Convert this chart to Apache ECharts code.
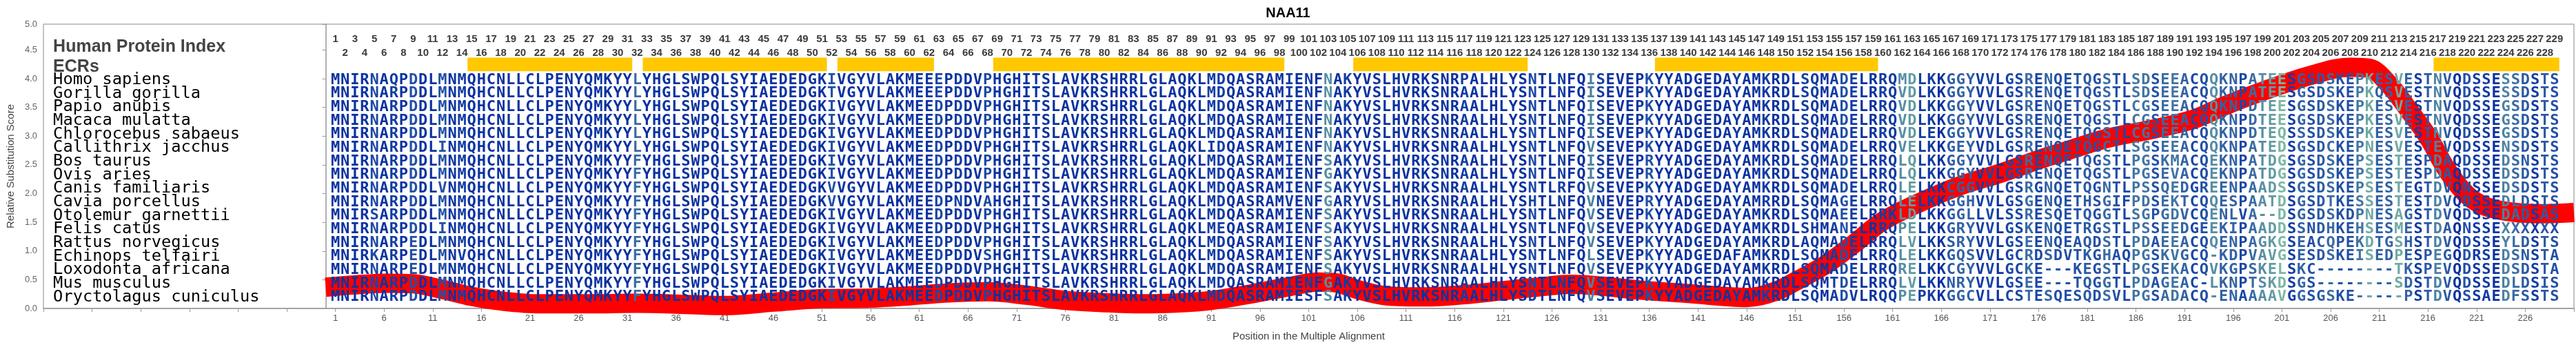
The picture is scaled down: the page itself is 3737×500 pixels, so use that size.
<!DOCTYPE html>
<html><head><meta charset="utf-8">
<script src="https://cdn.jsdelivr.net/npm/echarts@6/dist/echarts.min.js"></script>
<style>html,body{margin:0;padding:0;background:#fff}#c{width:3737px;height:500px}</style>
</head><body><div id="c"></div>
<script>
// ---------------- data ----------------
const chartTitle = 'NAA11';
const species = ['Homo sapiens','Gorilla gorilla','Papio anubis','Macaca mulatta','Chlorocebus sabaeus',
  'Callithrix jacchus','Bos taurus','Ovis aries','Canis familiaris','Cavia porcellus','Otolemur garnettii',
  'Felis catus','Rattus norvegicus','Echinops telfairi','Loxodonta africana','Mus musculus','Oryctolagus cuniculus'];

const alignment = [
 ['MNIRNAQPDDLMNMQ','HCNLLCLPENYQMKYYLYHGLSWPQLSYIAEDEDGKIVGYVLA','KMEEEPDDVPHGHITSLAVK','RSHRRLGLAQKLMDQASRAMIENFNA','KYVSLHVRKSNRPALHLYSNTLNFQ','ISEVEPKYYADGEDAYAMKRDLSQMA','DELRRQMDLKKGGYVVLGSRENQETQGS','TLSDSEEACQQKNPATEESGSDSKEPKESVESTNVQDSSESSDSTS'],
 ['MNIRNARPDDLMNMQ','HCNLLCLPENYQMKYYLYHGLSWPQLSYIAEDEDGKTVGYVLA','KMEEEPDDVPHGHITSLAVK','RSHRRLGLAQKLMDQASRAMIENFNA','KYVSLHVRKSNRAALHLYSNTLNFQ','ISEVEPKYYADGEDAYAMKRDLSQMA','DELRRQVDLKKGGYVVLGSRENQETQGS','TLSDSEEACQQKNPATEESGSDSKEPKQSVESTNVQDSSESSDSTS'],
 ['MNIRNARPDDLMNMQ','HCNLLCLPENYQMKYYLYHGLSWPQLSYIAEDEDGKIVGYVLA','KMEEDPDDVPHGHITSLAVK','RSHRRLGLAQKLMDQASRAMIENFNA','KYVSLHVRKSNRAALHLYSNTLNFQ','ISEVEPKYYADGEDAYAMKRDLSQMA','DELRRQVDLKKGGYVVLGSRENQETQGS','TLCGSEEACQQKNPDTEESGSDSKEPKESVESTNVQDSSEGSDSTS'],
 ['MNIRNARPDDLMNMQ','HCNLLCLPENYQMKYYLYHGLSWPQLSYIAEDEDGKIVGYVLA','KMEEDPDDVPHGHITSLAVK','RSHRRLGLAQKLMDQASRAMIENFNA','KYVSLHVRKSNRAALHLYSNTLNFQ','ISEVEPKYYADGEDAYAMKRDLSQMA','DELRRQVDLKKGGYVVLGSRENQETQGS','TLCGSEEACQQKNPDTEESGSDSKEPKESVESTNVQDSSEGSDSTS'],
 ['MNIRNARPDDLMNMQ','HCNLLCLPENYQMKYYLYHGLSWPQLSYIAEDEDGKIVGYVLA','KMEEDPDDVPHGHITSLAVK','RSHRRLGLAQKLMDQASRAMIENFNA','KYVSLHVRKSNRAALHLYSNTLNFQ','ISEVEPKYYADGEDAYAMKRDLSQMA','DELRRQVDLEKGGYVVLGSRENQETQGS','TLCGSEEACQQKNPDTEQSSSDSKEPKESVESTNVQDSSEGSDSTS'],
 ['MNIRNARPDDLINMQ','HCNLLCLPENYQMKYYLYHGLSWPQLSYIAEDEDGKIVGYVLA','KMEEDPDDVPHGHITSLAVK','RSHRRLGLAQKLIDQASRAMIENFNA','KYVSLHVRKSNRAALHLYSNTLNFQ','VSEVEPKYYADGEDAYAMKRDLSQMA','DELRRQVELKKGEYVDLGSRENQETQGC','TLSGSEEACQQKNPATEDSGSDCKEPNESVESTEVQDSSENSDSTS'],
 ['MNIRNARPDDLMNMQ','HCNLLCLPENYQMKYYFYHGLSWPQLSYIAEDEDGKIVGYVLA','KMEEDPDDVPHGHITSLAVK','RSHRRLGLAQKLMDQASRAMIENFSA','KYVSLHVRKSNRAALHLYSNTLNFQ','ISEVEPRYYADGEDAYAMKRDLSQMA','DELRRQLQLKKGGYVVLGSRENQETQGS','TLPGSKMACQEKNPATDGSGSDSKEPSESTESPDAQDSSEDSNSTS'],
 ['MNIRNARPDDLMNMQ','HCNLLCLPENYQMKYYFYHGLSWPQLSYIAEDEDGKIVGYVLA','KMEEDPDDVPHGHITSLAVK','RSHRRLGLAQKLMDQASRAMIENFGA','KYVSLHVRKSNRAALHLYSNTLNFQ','ISEVEPRYYADGEDAYAMKRDLSQMA','DELRRQLQLKKGGYVVLGSRENQETQGS','TLPGSEVACQEKNPATDGSGSDSKEPSESTESPDAQDSSEDSDSTS'],
 ['MNIRNARPDDLVNMQ','HCNLLCLPENYQMKYYFYHGLSWPQLSYIAEDEDGKVVGYVLA','KMEEDPDDVPHGHITSLAVK','RSHRRLGLAQKLMDQASRAMIENFSA','KYVSLHVRKSNRAALHLYSNTLRFQ','VSEVEPKYYADGEDAYAMKRDLSQMA','DELRRQLELKKCGGVVLGSRGNQETQGN','TLPSSQEDGREENPAADSSGSDSKEPSESTEGTDVQNSSEDSDSTS'],
 ['MNIRNARPDDLMNMQ','HCNLLCLPENYQMKYYFYHGLSWPQLSYIAEDEDGKVVGYVLA','KMEEDPNDVAHGHITSLAVK','RSHRRLGLAQKLMDQASRAMVENFGA','RYVSLHVRKSNRAALHLYSHTLNFQ','VNEVEPRYYADGEDAYAMRRDLSQMA','GELRRQLELKKGGHVVLGSGENQETHSG','IFPDSEKTCQQESPAATDSGSDTKESSESTESTDVQDSSEDLDSIS'],
 ['MNIRSARPDDLMNMQ','HCNLLCLPENYQMKYYFYHGLSWPQLSYIAEDEDGKIVGYVLA','KMEEDPDDVPHGHITSLAVK','RSHRRLGLAQKLMDQASRAMIENFSA','KYVSLHVRKSNRAALHLYSNTLNFQ','VSEVEPKYYADGEDAYAMKRDLSQMA','EELRRKLDLKKGGLLVLSSRESQETQGG','TLSGPGDVCQENLVA--DSGSDSKDPNESAGSTDVQDSSEDADSAS'],
 ['MNIRNARPDDLINMQ','HCNLLCLPENYQMKYYFYHGLSWPQLSYIAEDEDGKIVGYVLA','KMEEDPDDVPHGHITSLAVK','RSHRRLGLAQKLMEQASRAMIENFSA','KYVSLHVRKSNRAALHLYSNTLNFQ','VSEVEPKYYADGEDAYAMKRDLSHMA','NELRRQPELKKGRYVVLGSKENQETRGS','TLPSSEEDGEEKIPAADDSSNDHKEHSESMESTDAQNSSEXXXXXX'],
 ['MNIRNARPEDLMNMQ','HCNLLCLPENYQMKYYFYHGLSWPQLSYIAEDEDGKIVGYVLA','KMEEDPDDVPHGHITSLAVK','RSHRRLGLAQKLMDQASRAMIENFSA','KYVSLHVRKSNRAALHLYSNTLNFQ','VSEVEPKYYADGEDAYAMKRDLAQMA','DELRRQLVLKKSRYVVLGSEENQEAQDS','TLPDAEEACQQENPAGKGSEACQPEKDTGSHSTDVQDSSEYLDSTS'],
 ['MNIRKARPEDLMNVQ','HCNLLCLPENYQMKYYFYHGLSWPQLSYIAEDEDGKIVGYVLA','KMEEDPDDVSHGHITSLAVK','RSHRRLGLAQKLMDQASRAMIENFSA','KYVSLHVRKSNRAALHLYSNTLNFQ','LSEVEPKYYADGEDAFAMKRDLSQMA','DELRRQLELKKGQSVVLGCRDSDVTKGH','AQPGSKVGCQ-KDPVAVGSESDSKEISEDPESPEGQDRSEDSNSTA'],
 ['MNIRNARPEDLMNMQ','HCNLLCLPENYQMKYYFYHGLSWPQLSYIAEDEDGKIVGYVLA','KMEEDPDDVPHGHITSLAVK','RSHRRLGLAQKLMDQASRAMIENFSA','KYVSLHVRKSNRAALHLYSNTLNFQ','VSEVEPKYYADGEDAYAMKRDLSQMA','DELRRQRELKKCGYVVLGCKE---KEGS','TLPGSEKACQVKGPSKELSKC--------TKSPEVQDSSEDSDSTA'],
 ['MNIRNARPDDLMNMQ','HCNLLCLPENYQMKYYFYHGLSWPQLSYIAEDEDGKIVGYVLA','KMEEDPDDVPHGHITSLAVK','RSHRRLGLAQKLMDQASRAMIENFGA','KYVSLHVRKSNRAALHLYSNTLNFQ','VSEVEPKYYADGEDAYAMKRDLSQMT','DELRRQLVLKKNRYVVLGSEE---TQGG','TLPDAGEAC-LKNPTSKDSGS--------SDSTDVQDSSEDLDSIS'],
 ['MNIRNARPDDLMNMQ','HCNLLCLPENYQMKYYFYHGLSWPQLSYIAEDEDGKIVGYVLA','KMEEDPDDVPHGHITSLAVK','RSHRRLGLAQKLMDQASRAMIESFSA','KYVSLHVRKSNRAALHLYSDTLNFQ','VSEVEPKYYADGEDAYAMKRDLSQMA','DVLRQQPEPKKGGCVLLCSTESQESQDS','VLPGSADACQ-ENAAAAVGGSGSKE-----PSTDVQSSAEDFSSTS']
];
const sequences = alignment.map(parts => parts.join(''));
const alignLength = 229;

const ecrStart = [15, 33, 53, 69, 106, 137, 217];
const ecrEnd   = [31, 51, 62, 98, 123, 159, 229];

// relative substitution score
const scorePos = [0,3,6,9,12,15,18,22,27,32,37,41,46,51,56,60,64,68,72,76,80,84,88,91,95,99,102,104,106,109,113,117,121,125,128,131,135,140,146,149,151,154,157,160,164,168,172,176,179,183,188,192,195,199,204,208,210,212,214,216,218,220,222,225,228,231];
const scoreVal = [0.37,0.41,0.44,0.43,0.33,0.21,0.13,0.08,0.08,0.09,0.07,0.05,0.11,0.17,0.18,0.22,0.27,0.29,0.23,0.14,0.10,0.08,0.10,0.14,0.25,0.38,0.46,0.44,0.33,0.22,0.20,0.24,0.31,0.38,0.42,0.39,0.32,0.26,0.19,0.30,0.47,0.75,1.12,1.52,1.86,2.14,2.35,2.59,2.75,2.96,3.13,3.30,3.52,3.78,4.06,4.20,4.18,3.90,3.46,2.99,2.40,1.98,1.77,1.67,1.65,1.67];

// ---------------- layout / style ----------------
const ROW0 = 3.978, ROWSTEP = 0.2362;
const rowY = k => ROW0 - k * ROWSTEP;
const ODD_Y = 4.688, EVEN_Y = 4.45, HPI_Y = 4.557, ECR_LABEL_Y = 4.20, ECR_TOP = 4.367, ECR_BOT = 4.129;
const LABEL_X = -28;

// column colour from conservation of the column
const stops = [[1.0,'#0b32a0'],[0.88,'#1a47a6'],[0.75,'#2d5ca6'],[0.6,'#3f72a3'],[0.45,'#5a93a3'],[0.3,'#7ab6a4'],[0.15,'#98cfa6']];
function hexRgb(h){return [parseInt(h.slice(1,3),16),parseInt(h.slice(3,5),16),parseInt(h.slice(5,7),16)];}
function colorFor(f){
  if (f >= stops[0][0]) return stops[0][1];
  for (let i=0;i<stops.length-1;i++){
    const a=stops[i], b=stops[i+1];
    if (f <= a[0] && f >= b[0]) {
      const t=(a[0]-f)/(a[0]-b[0]); const ca=hexRgb(a[1]), cb=hexRgb(b[1]);
      return 'rgb('+ca.map((v,j)=>Math.round(v+(cb[j]-v)*t)).join(',')+')';
    }
  }
  return stops[stops.length-1][1];
}
const colColors = [];
for (let i=0;i<alignLength;i++){
  const counts={};
  sequences.forEach(s=>{const c=s[i]||'-'; counts[c]=(counts[c]||0)+1;});
  const mx=Math.max.apply(null,Object.values(counts));
  colColors.push(colorFor(mx/sequences.length));
}

const chart = echarts.init(document.getElementById('c'), null, {renderer:'canvas'});
const posList = []; for (let p=1;p<=alignLength;p++) posList.push(p);

const option = {
  animation:false,
  title:{text:chartTitle,left:'center',top:4,textStyle:{fontSize:20,fontWeight:'bold',color:'#000',fontFamily:'Liberation Sans'}},
  grid:{left:61,right:1,top:35,bottom:49,show:true,borderColor:'#888',borderWidth:1},
  xAxis:{type:'value',min:-29,max:231,interval:5,
    name:'Position in the Multiple Alignment',nameLocation:'middle',nameGap:33,
    nameTextStyle:{fontSize:15,color:'#444',fontFamily:'Liberation Sans'},
    axisLine:{lineStyle:{color:'#999',width:1.5}},
    axisTick:{length:5,lineStyle:{color:'#999'}},
    axisLabel:{fontSize:13,color:'#555',margin:8,fontFamily:'Liberation Sans',
      formatter:v=>(v>=1&&v<=alignLength)?String(v):''},
    splitLine:{show:false}},
  yAxis:{type:'value',min:0,max:4.95,interval:0.5,
    name:'Relative Substitution Score',nameLocation:'middle',nameGap:40,
    nameTextStyle:{fontSize:15,color:'#444',fontFamily:'Liberation Sans'},
    axisLine:{show:true,lineStyle:{color:'#999',width:1.5}},
    axisTick:{show:true,length:5,lineStyle:{color:'#999'}},
    axisLabel:{fontSize:13,color:'#666',margin:9,fontFamily:'Liberation Sans',formatter:v=>v.toFixed(1)},
    splitLine:{show:false}},
  series:[
    {type:'line',name:'score',data:scorePos.map((p,i)=>[p,scoreVal[i]]),smooth:0.35,showSymbol:false,symbol:'none',
      lineStyle:{color:'#ff0000',width:28},z:2,silent:true},
    {type:'custom',name:'ecr',data:ecrStart.map((s,i)=>[s,ecrEnd[i],(ECR_TOP+ECR_BOT)/2]),encode:{x:[0,1],y:2},z:3,silent:true,
      renderItem:(params,api)=>{
        const p0=api.coord([api.value(0)-0.42,ECR_TOP]), p1=api.coord([api.value(1)+0.5,ECR_BOT]);
        return {type:'rect',shape:{x:p0[0],y:p0[1],width:p1[0]-p0[0],height:p1[1]-p0[1]},style:{fill:'#ffc800'}};
      }},
    {type:'custom',name:'numbers',data:posList.map(p=>[p,p%2?ODD_Y:EVEN_Y]),z:4,silent:true,
      renderItem:(params,api)=>{
        const pt=api.coord([api.value(0),api.value(1)]);
        return {type:'text',style:{x:pt[0],y:pt[1],text:String(api.value(0)),fill:'#3c3c3c',
          fontSize:15,fontWeight:'bold',fontFamily:'Liberation Sans',align:'center',verticalAlign:'middle'}};
      }},
    {type:'custom',name:'headers',data:[[LABEL_X,HPI_Y,0],[LABEL_X,ECR_LABEL_Y,1]],z:4,silent:true,
      renderItem:(params,api)=>{
        const pt=api.coord([api.value(0),api.value(1)]);
        return {type:'text',style:{x:pt[0],y:pt[1],text:api.value(2)===0?'Human Protein Index':'ECRs',fill:'#444',
          fontSize:25,fontWeight:'bold',fontFamily:'Liberation Sans',align:'left',verticalAlign:'middle'}};
      }},
    {type:'custom',name:'species',data:species.map((n,k)=>[LABEL_X,rowY(k),k]),z:4,silent:true,
      renderItem:(params,api)=>{
        const pt=api.coord([api.value(0),api.value(1)]);
        return {type:'text',style:{x:pt[0],y:pt[1],text:species[api.value(2)],fill:'#000',
          fontSize:23.7,fontFamily:'DejaVu Sans Mono',align:'left',verticalAlign:'middle'}};
      }},
    {type:'custom',name:'residues',data:sequences.map((s,k)=>[1,rowY(k),k]),z:6,silent:true,clip:false,
      renderItem:(params,api)=>{
        const k=api.value(2); const seq=sequences[k]; const children=[];
        for (let i=0;i<seq.length;i++){
          const pt=api.coord([i+1,rowY(k)]);
          children.push({type:'text',style:{x:pt[0],y:pt[1],text:seq[i],fill:colColors[i]||'#0b32a0',
            fontSize:22,fontWeight:'bold',fontFamily:'DejaVu Sans Mono',align:'center',verticalAlign:'middle'}});
        }
        return {type:'group',children:children};
      }}
  ]
};
chart.setOption(option);
</script>
</body></html>
